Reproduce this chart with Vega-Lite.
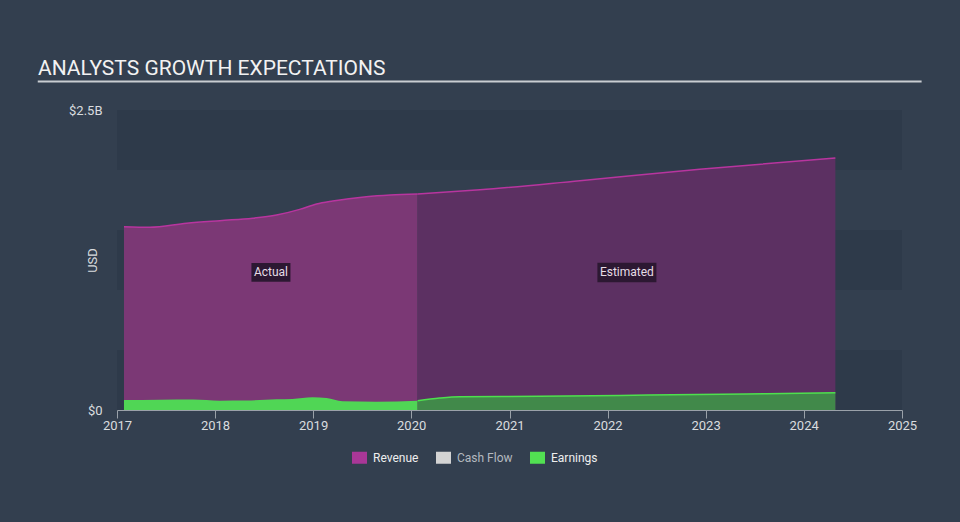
{
  "$schema": "https://vega.github.io/schema/vega-lite/v6.json",
  "width": 785,
  "height": 300,
  "autosize": {"type": "none"},
  "padding": {"left": 117, "top": 110, "right": 58, "bottom": 112},
  "background": "#333f4f",
  "config": {
    "view": {"stroke": null},
    "font": "Roboto",
    "axisX": {"domainColor": "#9aa1a9", "tickColor": "#9aa1a9", "tickSize": 8, "labelColor": "#d9dcdf", "labelFontSize": 13, "labelFont": "Roboto", "labelPadding": 1, "labelFlush": false, "grid": false, "title": null},
    "axisY": {"domain": false, "ticks": false, "grid": false, "labelColor": "#d9dcdf", "labelFontSize": 13, "labelFont": "Roboto", "labelPadding": 15, "titleColor": "#d9dcdf", "titleFontSize": 13, "titleFont": "Roboto", "titleFontWeight": "normal", "titleX": -25, "titleY": 150, "titleBaseline": "middle", "titleAngle": -90}
  },
  "title": {"text": "ANALYSTS GROWTH EXPECTATIONS", "anchor": "start", "frame": "group", "dx": -79, "offset": -15, "baseline": "alphabetic", "fontSize": 21, "font": "Roboto", "fontWeight": "normal", "color": "#f2f2f2"},
  "datasets": {
    "series": [
      {"date": "2017-01-27", "metric": "Revenue", "phase": "Actual", "value": 1.527},
      {"date": "2017-05-03", "metric": "Revenue", "phase": "Actual", "value": 1.522},
      {"date": "2017-09-17", "metric": "Revenue", "phase": "Actual", "value": 1.556},
      {"date": "2018-01-19", "metric": "Revenue", "phase": "Actual", "value": 1.578},
      {"date": "2018-05-21", "metric": "Revenue", "phase": "Actual", "value": 1.598},
      {"date": "2018-08-18", "metric": "Revenue", "phase": "Actual", "value": 1.625},
      {"date": "2018-11-12", "metric": "Revenue", "phase": "Actual", "value": 1.672},
      {"date": "2019-01-14", "metric": "Revenue", "phase": "Actual", "value": 1.717},
      {"date": "2019-03-15", "metric": "Revenue", "phase": "Actual", "value": 1.742},
      {"date": "2019-07-18", "metric": "Revenue", "phase": "Actual", "value": 1.778},
      {"date": "2019-10-15", "metric": "Revenue", "phase": "Actual", "value": 1.792},
      {"date": "2020-01-25", "metric": "Revenue", "phase": "Actual", "value": 1.8},
      {"date": "2020-01-25", "metric": "Revenue", "phase": "Estimated", "value": 1.8},
      {"date": "2020-09-13", "metric": "Revenue", "phase": "Estimated", "value": 1.835},
      {"date": "2021-09-20", "metric": "Revenue", "phase": "Estimated", "value": 1.911},
      {"date": "2022-12-10", "metric": "Revenue", "phase": "Estimated", "value": 2.006},
      {"date": "2024-04-28", "metric": "Revenue", "phase": "Estimated", "value": 2.1},
      {"date": "2017-01-27", "metric": "Earnings", "phase": "Actual", "value": 0.083},
      {"date": "2017-06-09", "metric": "Earnings", "phase": "Actual", "value": 0.086},
      {"date": "2017-10-11", "metric": "Earnings", "phase": "Actual", "value": 0.087},
      {"date": "2018-01-19", "metric": "Earnings", "phase": "Actual", "value": 0.078},
      {"date": "2018-04-27", "metric": "Earnings", "phase": "Actual", "value": 0.079},
      {"date": "2018-08-18", "metric": "Earnings", "phase": "Actual", "value": 0.089},
      {"date": "2018-10-16", "metric": "Earnings", "phase": "Actual", "value": 0.092},
      {"date": "2018-12-30", "metric": "Earnings", "phase": "Actual", "value": 0.106},
      {"date": "2019-02-20", "metric": "Earnings", "phase": "Actual", "value": 0.1},
      {"date": "2019-04-21", "metric": "Earnings", "phase": "Actual", "value": 0.072},
      {"date": "2019-08-24", "metric": "Earnings", "phase": "Actual", "value": 0.069},
      {"date": "2020-01-25", "metric": "Earnings", "phase": "Actual", "value": 0.078},
      {"date": "2020-01-25", "metric": "Earnings", "phase": "Estimated", "value": 0.078},
      {"date": "2020-04-16", "metric": "Earnings", "phase": "Estimated", "value": 0.1},
      {"date": "2020-06-30", "metric": "Earnings", "phase": "Estimated", "value": 0.111},
      {"date": "2021-04-22", "metric": "Earnings", "phase": "Estimated", "value": 0.114},
      {"date": "2022-06-01", "metric": "Earnings", "phase": "Estimated", "value": 0.124},
      {"date": "2023-06-01", "metric": "Earnings", "phase": "Estimated", "value": 0.134},
      {"date": "2024-04-28", "metric": "Earnings", "phase": "Estimated", "value": 0.144}
    ],
    "bands": [
      {"lo": 0, "hi": 0.5},
      {"lo": 1, "hi": 1.5},
      {"lo": 2, "hi": 2.5}
    ],
    "labels": [
      {"date": "2018-07-28", "value": 1.146, "label": "Actual"},
      {"date": "2022-03-14", "value": 1.146, "label": "Estimated"}
    ],
    "legend_items": [
      {"item": "Revenue"},
      {"item": "Cash Flow"},
      {"item": "Earnings"}
    ]
  },
  "layer": [
    {
      "data": {"name": "bands"},
      "mark": {"type": "rect", "color": "#2e3a4a"},
      "encoding": {
        "y": {"field": "lo", "type": "quantitative", "scale": {"domain": [0, 2.5], "nice": false}, "axis": {"title": "USD", "values": [0, 2.5], "labelExpr": "datum.value == 0 ? '$0' : '$' + datum.value + 'B'"}},
        "y2": {"field": "hi"}
      }
    },
    {
      "data": {"name": "series"},
      "transform": [{"filter": "datum.metric == 'Revenue' && datum.phase == 'Actual'"}],
      "mark": {"type": "area", "color": "#7b3875", "interpolate": "monotone"},
      "encoding": {
        "x": {"field": "date", "type": "temporal", "scale": {"type": "utc", "domain": [{"year": 2017, "month": 1, "date": 1, "utc": true}, {"year": 2025, "month": 1, "date": 1, "utc": true}]},
          "axis": {"format": "%Y", "values": [{"year": 2017, "month": 1, "date": 1, "utc": true}, {"year": 2018, "month": 1, "date": 1, "utc": true}, {"year": 2019, "month": 1, "date": 1, "utc": true}, {"year": 2020, "month": 1, "date": 1, "utc": true}, {"year": 2021, "month": 1, "date": 1, "utc": true}, {"year": 2022, "month": 1, "date": 1, "utc": true}, {"year": 2023, "month": 1, "date": 1, "utc": true}, {"year": 2024, "month": 1, "date": 1, "utc": true}, {"year": 2025, "month": 1, "date": 1, "utc": true}]}},
        "y": {"field": "value", "type": "quantitative"}
      }
    },
    {
      "data": {"name": "series"},
      "transform": [{"filter": "datum.metric == 'Revenue' && datum.phase == 'Estimated'"}],
      "mark": {"type": "area", "color": "#5c3062", "interpolate": "monotone"},
      "encoding": {
        "x": {"field": "date", "type": "temporal"},
        "y": {"field": "value", "type": "quantitative"}
      }
    },
    {
      "data": {"name": "series"},
      "transform": [{"filter": "datum.metric == 'Earnings' && datum.phase == 'Actual'"}],
      "mark": {"type": "area", "color": "#50d655", "interpolate": "monotone"},
      "encoding": {
        "x": {"field": "date", "type": "temporal"},
        "y": {"field": "value", "type": "quantitative"}
      }
    },
    {
      "data": {"name": "series"},
      "transform": [{"filter": "datum.metric == 'Earnings' && datum.phase == 'Estimated'"}],
      "mark": {"type": "area", "color": "#41894a", "interpolate": "monotone"},
      "encoding": {
        "x": {"field": "date", "type": "temporal"},
        "y": {"field": "value", "type": "quantitative"}
      }
    },
    {
      "data": {"name": "series"},
      "transform": [{"filter": "datum.metric == 'Revenue'"}],
      "mark": {"type": "line", "color": "#b8359f", "strokeWidth": 1.5, "interpolate": "monotone"},
      "encoding": {
        "x": {"field": "date", "type": "temporal"},
        "y": {"field": "value", "type": "quantitative"},
        "detail": {"field": "phase"}
      }
    },
    {
      "data": {"name": "series"},
      "transform": [{"filter": "datum.metric == 'Earnings' && datum.phase == 'Estimated'"}],
      "mark": {"type": "line", "color": "#4ee04e", "strokeWidth": 1.5, "interpolate": "monotone"},
      "encoding": {
        "x": {"field": "date", "type": "temporal"},
        "y": {"field": "value", "type": "quantitative"}
      }
    },
    {
      "data": {"name": "labels"},
      "transform": [{"filter": "datum.label == 'Actual'"}],
      "mark": {"type": "point", "filled": true, "opacity": 1, "color": "#2c1832", "shape": "M-1,-0.48H1V0.48H-1Z", "size": 1521, "strokeWidth": 0},
      "encoding": {
        "x": {"field": "date", "type": "temporal"},
        "y": {"field": "value", "type": "quantitative"}
      }
    },
    {
      "data": {"name": "labels"},
      "transform": [{"filter": "datum.label == 'Estimated'"}],
      "mark": {"type": "point", "filled": true, "opacity": 1, "color": "#2c1832", "shape": "M-1,-0.33H1V0.33H-1Z", "size": 3481, "strokeWidth": 0},
      "encoding": {
        "x": {"field": "date", "type": "temporal"},
        "y": {"field": "value", "type": "quantitative"}
      }
    },
    {
      "data": {"name": "labels"},
      "mark": {"type": "text", "color": "#e6dde6", "fontSize": 12, "font": "Roboto", "align": "center", "baseline": "middle"},
      "encoding": {
        "x": {"field": "date", "type": "temporal"},
        "y": {"field": "value", "type": "quantitative"},
        "text": {"field": "label"}
      }
    },
    {
      "data": {"name": "legend_items"},
      "mark": {"type": "square", "opacity": 0},
      "encoding": {
        "color": {"field": "item", "type": "nominal",
          "scale": {"domain": ["Revenue", "Cash Flow", "Earnings"], "range": ["#a93797", "#d3d3d3", "#52e052"]},
          "legend": {"title": null, "orient": "none", "legendX": 235, "legendY": 340, "direction": "horizontal", "padding": 0,
            "symbolType": "M-1,-0.8H1V0.8H-1Z", "symbolSize": 225, "symbolOpacity": 1, "symbolStrokeWidth": 0,
            "labelFontSize": 12, "labelFont": "Roboto", "labelFontWeight": "normal", "labelOffset": 6, "columnPadding": 17, "labelColor": "#eeeeee",
            "encode": {"labels": {"update": {"fill": {"signal": "datum.label === 'Cash Flow' ? '#b4b9bf' : '#eeeeee'"}}}}}
        }
      }
    },
    {
      "data": {"values": [{}]},
      "mark": {"type": "rule", "color": "#c9cdd2", "strokeWidth": 2, "clip": false},
      "encoding": {
        "x": {"datum": {"year": 2016, "month": 3, "date": 12, "utc": true}, "type": "temporal"},
        "x2": {"datum": {"year": 2025, "month": 3, "date": 15, "utc": true}},
        "y": {"datum": 2.7375, "type": "quantitative"}
      }
    }
  ]
}
